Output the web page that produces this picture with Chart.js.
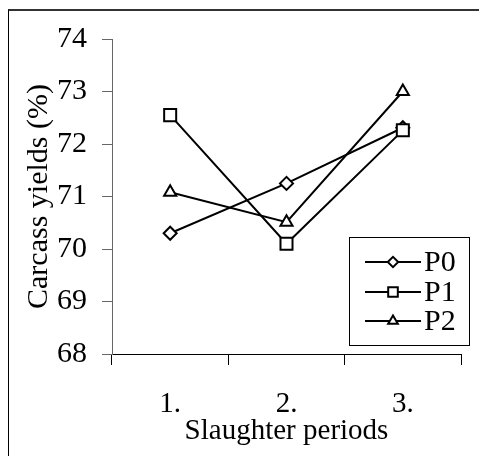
<!DOCTYPE html>
<html>
<head>
<meta charset="utf-8">
<script src="https://cdn.jsdelivr.net/npm/chart.js@4.4.1/dist/chart.umd.min.js"></script>
<style>
  body { margin: 0; background: #fff; }
  #wrap { position: relative; width: 479px; height: 456px; }
  #frame {
    position: absolute; left: 8px; top: 9px; right: 0; bottom: 0;
    border-top: 2px solid #333; border-left: 1px solid #000;
    pointer-events: none;
  }
</style>
</head>
<body>
<div id="wrap">
  <canvas id="chart"></canvas>
  <div id="frame"></div>
</div>
<script>
// 屠殺時期
const periods = ['1.', '2.', '3.'];
// 枝肉歩留 (%)
const p0 = [70.30, 71.25, 72.31];
const p1 = [72.55, 70.10, 72.26];
const p2 = [71.08, 70.51, 73.00];
const seriesNames = ['P0', 'P1', 'P2'];
const yTicks = [68, 69, 70, 71, 72, 73, 74];

const serif = '"Liberation Serif", "Times New Roman", serif';
const markers = [
  { style: 'rectRot', radius: 6.5 },
  { style: 'rect', radius: 8.5 },
  { style: 'triangle', radius: 7 }
];

function makeSet(label, data, m, order) {
  return {
    label: label,
    data: data,
    order: order,
    borderColor: '#000',
    borderWidth: 2,
    tension: 0,
    pointStyle: m.style,
    pointRadius: m.radius,
    pointHoverRadius: m.radius,
    pointBackgroundColor: '#fff',
    pointBorderColor: '#000',
    pointBorderWidth: 2
  };
}

// 凡例をプロット領域の右下に描く
const boxLegend = {
  id: 'boxLegend',
  afterDraw(chart) {
    const ctx = chart.ctx;
    const x0 = 349, y0 = 237, w = 120, h = 108;
    const rows = [262, 292, 321];
    ctx.save();
    ctx.fillStyle = '#fff';
    ctx.fillRect(x0, y0, w, h);
    ctx.strokeStyle = '#000';
    ctx.lineWidth = 1;
    ctx.strokeRect(x0 + 0.5, y0 + 0.5, w, h);
    chart.data.datasets.forEach((ds, i) => {
      const y = rows[i];
      ctx.strokeStyle = '#000';
      ctx.lineWidth = 2;
      ctx.beginPath();
      ctx.moveTo(365, y);
      ctx.lineTo(421, y);
      ctx.stroke();
      ctx.fillStyle = '#fff';
      ctx.lineWidth = 2;
      Chart.helpers.drawPoint(ctx, {
        pointStyle: ds.pointStyle,
        radius: ds.pointRadius * 0.8,
        borderWidth: 2,
        rotation: 0
      }, 393, y);
      ctx.fillStyle = '#000';
      ctx.font = '30px ' + serif;
      ctx.textBaseline = 'middle';
      ctx.textAlign = 'left';
      ctx.fillText(ds.label, 424, y + 1);
    });
    ctx.restore();
  }
};

new Chart(document.getElementById('chart'), {
  type: 'line',
  data: {
    labels: periods,
    datasets: [
      makeSet(seriesNames[0], p0, markers[0], 2),
      makeSet(seriesNames[1], p1, markers[1], 1),
      makeSet(seriesNames[2], p2, markers[2], 3)
    ]
  },
  options: {
    responsive: true,
    maintainAspectRatio: false,
    animation: false,
    layout: { padding: { left: 0, right: 18, top: 39, bottom: 0 } },
    plugins: { legend: { display: false }, tooltip: { enabled: false } },
    scales: {
      x: {
        offset: true,
        grid: { offset: true, drawOnChartArea: false, tickLength: 11, color: '#000', lineWidth: 1 },
        border: { color: '#000', width: 1 },
        ticks: { color: '#000', font: { family: serif, size: 29 }, padding: 22, maxRotation: 0 },
        title: {
          display: true, text: 'Slaughter periods', color: '#000',
          font: { family: serif, size: 29 }, padding: { top: 0, bottom: 7 }
        },
        afterFit(scale) { scale.height = 102; }
      },
      y: {
        min: 68,
        max: 74,
        afterBuildTicks(scale) { scale.ticks = yTicks.map(v => ({ value: v })); },
        grid: { drawOnChartArea: false, tickLength: 10, color: '#666', lineWidth: 1 },
        border: { color: '#666', width: 1 },
        ticks: { color: '#000', font: { family: serif, size: 30 }, padding: 15 },
        title: {
          display: true, text: 'Carcass yields (%)', color: '#000',
          font: { family: serif, size: 30 }, padding: { top: 21, bottom: 0 }
        },
        afterFit(scale) { scale.width = 112; }
      }
    }
  },
  plugins: [boxLegend]
});
</script>
</body>
</html>
